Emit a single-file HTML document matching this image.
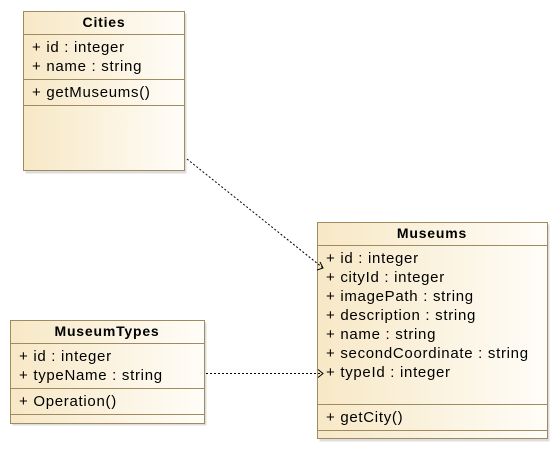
<!DOCTYPE html>
<html><head><meta charset="utf-8"><style>
html,body{margin:0;padding:0;background:#fff;}
svg{display:block;}
text{font-family:"Liberation Sans",Arial,sans-serif;font-size:15px;letter-spacing:0.7px;fill:#000;}
.b{font-weight:bold;font-size:14px;letter-spacing:0.8px;}
</style></head><body>
<svg width="558" height="451" viewBox="0 0 558 451" xmlns="http://www.w3.org/2000/svg">
<defs>
<linearGradient id="g" x1="0" y1="0" x2="1" y2="0">
<stop offset="0" stop-color="#f7e8c6"/>
<stop offset="1" stop-color="#fffdf8"/>
</linearGradient>
</defs>
<g stroke="#a08a60" stroke-width="1">
<rect x="25.5" y="13.5" width="161" height="160" fill="#ddd" stroke="none"/>
<rect x="319.5" y="224.5" width="230" height="217" fill="#ddd" stroke="none"/>
<rect x="12.5" y="322.5" width="194" height="103" fill="#ddd" stroke="none"/>
<rect x="23.5" y="11.5" width="161" height="159" fill="url(#g)"/>
<line x1="23.5" y1="34.5" x2="184.5" y2="34.5"/>
<line x1="23.5" y1="79.5" x2="184.5" y2="79.5"/>
<line x1="23.5" y1="105.5" x2="184.5" y2="105.5"/>
<rect x="317.5" y="222.5" width="230" height="216" fill="url(#g)"/>
<line x1="317.5" y1="245.5" x2="547.5" y2="245.5"/>
<line x1="317.5" y1="404.5" x2="547.5" y2="404.5"/>
<line x1="317.5" y1="430.5" x2="547.5" y2="430.5"/>
<rect x="10.5" y="320.5" width="194" height="103" fill="url(#g)"/>
<line x1="10.5" y1="343.5" x2="204.5" y2="343.5"/>
<line x1="10.5" y1="388.5" x2="204.5" y2="388.5"/>
<line x1="10.5" y1="414.5" x2="204.5" y2="414.5"/>
</g>
<g stroke="#000" stroke-width="1" fill="none" stroke-dasharray="2,2">
<line x1="187" y1="159" x2="323" y2="268"/>
<line x1="206" y1="373.5" x2="323" y2="373.5"/>
</g>
<g stroke="#000" stroke-width="1" fill="none">
<polyline points="317,270 323,268 320,262"/>
<polyline points="318,369.5 323,373.5 318,377.5"/>
</g>
<text class="b" x="104" y="27" text-anchor="middle">Cities</text>
<text x="32" y="52">+ id : integer</text>
<text x="32" y="71">+ name : string</text>
<text x="32" y="97">+ getMuseums()</text>
<text class="b" x="432" y="238" text-anchor="middle">Museums</text>
<text x="326" y="263">+ id : integer</text>
<text x="326" y="282">+ cityId : integer</text>
<text x="326" y="301">+ imagePath : string</text>
<text x="326" y="320">+ description : string</text>
<text x="326" y="339">+ name : string</text>
<text x="326" y="358">+ secondCoordinate : string</text>
<text x="326" y="377">+ typeId : integer</text>
<text x="326" y="422">+ getCity()</text>
<text class="b" x="107" y="336" text-anchor="middle">MuseumTypes</text>
<text x="19" y="361">+ id : integer</text>
<text x="19" y="380">+ typeName : string</text>
<text x="19" y="406">+ Operation()</text>
</svg>
</body></html>
